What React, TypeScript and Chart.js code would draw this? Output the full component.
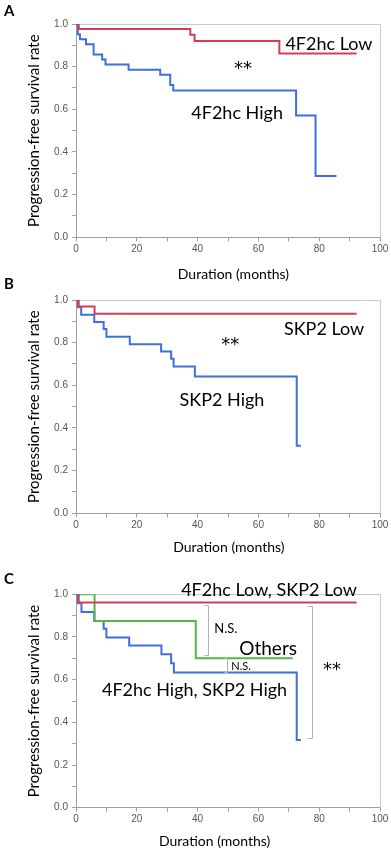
import React, { useEffect, useRef } from "react";
import { Chart, registerables } from "chart.js";

Chart.register(...registerables);

// ---------- Data (months, survival) ----------
// Panel A
const aLowMonths = [0, 0.9, 37.6, 39.0, 66.9, 92.3];
const aLowSurvival = [1, 0.976, 0.95, 0.92, 0.862, 0.862];
const aHighMonths = [0, 0.6, 1.3, 3.3, 5.8, 8.6, 9.7, 17.3, 27.7, 31.0, 32.0, 72.4, 78.8, 85.7];
const aHighSurvival = [1, 0.952, 0.929, 0.905, 0.857, 0.833, 0.81, 0.786, 0.762, 0.714, 0.688, 0.571, 0.287, 0.287];

// Panel B
const bLowMonths = [0, 0.9, 6.1, 92.3];
const bLowSurvival = [1, 0.969, 0.936, 0.936];
const bHighMonths = [0, 0.6, 1.7, 6.0, 9.1, 10.0, 17.7, 28.0, 31.3, 32.1, 39.1, 72.6, 74.0];
const bHighSurvival = [1, 0.966, 0.931, 0.897, 0.864, 0.828, 0.793, 0.759, 0.724, 0.688, 0.641, 0.317, 0.317];

// Panel C
const cLowMonths = [0, 0.9, 92.3];
const cLowSurvival = [1, 0.961, 0.961];
const cOtherMonths = [0, 6.1, 39.4, 71.3];
const cOtherSurvival = [1, 0.875, 0.7, 0.7];
const cHighMonths = [0, 0.6, 1.8, 6.0, 9.1, 10.0, 17.5, 28.1, 31.3, 32.2, 72.6, 74.0];
const cHighSurvival = [1, 0.958, 0.917, 0.875, 0.839, 0.798, 0.76, 0.719, 0.677, 0.634, 0.317, 0.317];

// Tick labels
const xTickLabels = ["0", "20", "40", "60", "80", "100"];
const yTickLabels = ["0.0", "0.2", "0.4", "0.6", "0.8", "1.0"];

const xTitle = "Duration (months)";
const yTitle = "Progression-free survival rate";

// ---------- Styles ----------
const RED = "#d83c52";
const BLUE = "#3f6fdc";
const GREEN = "#52b548";
const FONT = "Lato";
const STAR_FONT = "DejaVu Sans";

type Series = { months: number[]; surv: number[]; color: string };
type Txt = { text: string; x: number; y: number; size: number; family?: string };
type Bracket = { x: number; y1: number; y2: number; tick: number };
type Panel = {
  letter: string;
  top: number;
  height: number;
  chartTop: number;
  chartBottom: number;
  letterY: number;
  xTitleX: number;
  xTitleDy: number;
  series: Series[];
  texts: Txt[];
  brackets: Bracket[];
};

const panels: Panel[] = [
  {
    letter: "A",
    top: 0,
    height: 285,
    chartTop: 24,
    chartBottom: 237.3,
    letterY: 10,
    xTitleX: 51.8,
    xTitleDy: 37,
    series: [
      { months: aLowMonths, surv: aLowSurvival, color: RED },
      { months: aHighMonths, surv: aHighSurvival, color: BLUE },
    ],
    texts: [
      { text: "4F2hc Low", x: 83.2, y: 0.906, size: 18 },
      { text: "**", x: 54.9, y: 0.789, size: 18, family: STAR_FONT },
      { text: "4F2hc High", x: 53, y: 0.583, size: 18 },
    ],
    brackets: [],
  },
  {
    letter: "B",
    top: 285,
    height: 280,
    chartTop: 15,
    chartBottom: 228.3,
    letterY: 282.5,
    xTitleX: 50.3,
    xTitleDy: 34,
    series: [
      { months: bLowMonths, surv: bLowSurvival, color: RED },
      { months: bHighMonths, surv: bHighSurvival, color: BLUE },
    ],
    texts: [
      { text: "SKP2 Low", x: 81.6, y: 0.864, size: 18 },
      { text: "**", x: 50.7, y: 0.789, size: 18, family: STAR_FONT },
      { text: "SKP2 High", x: 48, y: 0.531, size: 18 },
    ],
    brackets: [],
  },
  {
    letter: "C",
    top: 565,
    height: 285,
    chartTop: 29.3,
    chartBottom: 242.7,
    letterY: 577.5,
    xTitleX: 45.6,
    xTitleDy: 33.5,
    series: [
      { months: cLowMonths, surv: cLowSurvival, color: RED },
      { months: cOtherMonths, surv: cOtherSurvival, color: GREEN },
      { months: cHighMonths, surv: cHighSurvival, color: BLUE },
    ],
    texts: [
      { text: "4F2hc Low, SKP2 Low", x: 63.5, y: 1.02, size: 18 },
      { text: "N.S.", x: 49.3, y: 0.837, size: 13 },
      { text: "Others", x: 63.2, y: 0.744, size: 19 },
      { text: "N.S.", x: 54.3, y: 0.664, size: 11 },
      { text: "**", x: 84.2, y: 0.645, size: 18, family: STAR_FONT },
      { text: "4F2hc High, SKP2 High", x: 39, y: 0.551, size: 18 },
    ],
    brackets: [
      { x: 43.5, y1: 0.951, y2: 0.717, tick: 4 },
      { x: 49.6, y1: 0.7, y2: 0.634, tick: 3 },
      { x: 77.7, y1: 0.947, y2: 0.325, tick: 5 },
    ],
  },
];

const W = 391;
const PLOT_LEFT = 76;
const PLOT_RIGHT = 380;

function makeOverlay(p: Panel) {
  return {
    id: "overlay" + p.letter,
    beforeDatasetsDraw(chart: any) {
      const { ctx, chartArea: a } = chart;
      ctx.save();
      ctx.strokeStyle = "#c8c8c8";
      ctx.lineWidth = 1;
      ctx.beginPath();
      ctx.moveTo(a.left, Math.round(a.top) + 0.5);
      ctx.lineTo(Math.round(a.right) + 0.5, Math.round(a.top) + 0.5);
      ctx.lineTo(Math.round(a.right) + 0.5, a.bottom);
      ctx.stroke();
      ctx.restore();
    },
    afterDatasetsDraw(chart: any) {
      const { ctx, chartArea: a, scales } = chart;
      const xs = scales.x;
      const ys = scales.y;
      ctx.save();
      // brackets
      ctx.strokeStyle = "#b4b4b4";
      ctx.lineWidth = 1;
      for (const b of p.brackets) {
        const px = Math.round(xs.getPixelForValue(b.x)) + 0.5;
        const py1 = Math.round(ys.getPixelForValue(b.y1)) + 0.5;
        const py2 = Math.round(ys.getPixelForValue(b.y2)) + 0.5;
        ctx.beginPath();
        ctx.moveTo(px - b.tick, py1);
        ctx.lineTo(px, py1);
        ctx.lineTo(px, py2);
        ctx.lineTo(px - b.tick, py2);
        ctx.stroke();
      }
      // texts
      ctx.fillStyle = "#000";
      ctx.textAlign = "center";
      ctx.textBaseline = "middle";
      for (const t of p.texts) {
        ctx.font = `${t.size}px ${t.family || FONT}`;
        ctx.fillText(t.text, xs.getPixelForValue(t.x), ys.getPixelForValue(t.y));
      }
      // x title
      ctx.font = `14px ${FONT}`;
      ctx.fillText(xTitle, xs.getPixelForValue(p.xTitleX), a.bottom + p.xTitleDy);
      ctx.restore();
    },
  };
}

function PanelChart({ p }: { p: Panel }) {
  const ref = useRef<HTMLCanvasElement | null>(null);
  useEffect(() => {
    if (!ref.current) return;
    const chart = new Chart(ref.current, {
      type: "line",
      data: {
        datasets: p.series.map((s) => ({
          data: s.months.map((m, i) => ({ x: m, y: s.surv[i] })),
          borderColor: s.color,
          borderWidth: 2,
          stepped: true,
          pointRadius: 0,
          fill: false,
        })),
      },
      options: {
        animation: false,
        responsive: false,
        maintainAspectRatio: false,
        devicePixelRatio: 1,
        layout: { padding: { top: p.chartTop, right: W - PLOT_RIGHT, left: 0, bottom: 0 } },
        plugins: { legend: { display: false }, tooltip: { enabled: false } },
        scales: {
          x: {
            type: "linear",
            min: 0,
            max: 100,
            afterFit: (s: any) => {
              s.height = p.height - p.chartBottom;
            },
            ticks: {
              stepSize: 10,
              autoSkip: false,
              maxRotation: 0,
              padding: 2,
              color: "#555",
              font: { family: "Liberation Sans", size: 10 },
              callback: (v: any) => {
                const n = Math.round(Number(v));
                return n % 20 === 0 ? xTickLabels[n / 20] : "";
              },
            },
            grid: { drawOnChartArea: false, drawTicks: true, tickLength: 4, color: "#a0a0a0" },
            border: { color: "#a0a0a0", width: 1 },
          },
          y: {
            type: "linear",
            min: 0,
            max: 1,
            afterFit: (s: any) => {
              s.width = PLOT_LEFT;
            },
            ticks: {
              stepSize: 0.1,
              autoSkip: false,
              padding: 4,
              color: "#555",
              font: { family: "Liberation Sans", size: 10 },
              callback: (v: any) => {
                const n = Math.round(Number(v) * 10);
                return n % 2 === 0 ? yTickLabels[n / 2] : "";
              },
            },
            grid: { drawOnChartArea: false, drawTicks: true, tickLength: 4, color: "#a0a0a0" },
            border: { color: "#a0a0a0", width: 1 },
            title: {
              display: true,
              text: yTitle,
              color: "#000",
              font: { family: FONT, size: 15 },
              padding: { top: 25, bottom: 0 },
            },
          },
        },
      },
      plugins: [makeOverlay(p)],
    } as any);
    return () => chart.destroy();
  }, [p]);
  return (
    <canvas
      ref={ref}
      width={W}
      height={p.height}
      style={{ position: "absolute", left: 0, top: p.top, width: W, height: p.height }}
    />
  );
}

export default function App() {
  return (
    <div style={{ position: "absolute", left: 0, top: 0, width: W, height: 850, background: "#fff" }}>
      {panels.map((p) => (
        <PanelChart key={p.letter} p={p} />
      ))}
      {panels.map((p) => (
        <div
          key={"l" + p.letter}
          style={{
            position: "absolute",
            left: 4,
            top: p.letterY - 9,
            fontFamily: FONT,
            fontWeight: 700,
            fontSize: 15,
            lineHeight: "18px",
            color: "#000",
          }}
        >
          {p.letter}
        </div>
      ))}
    </div>
  );
}
